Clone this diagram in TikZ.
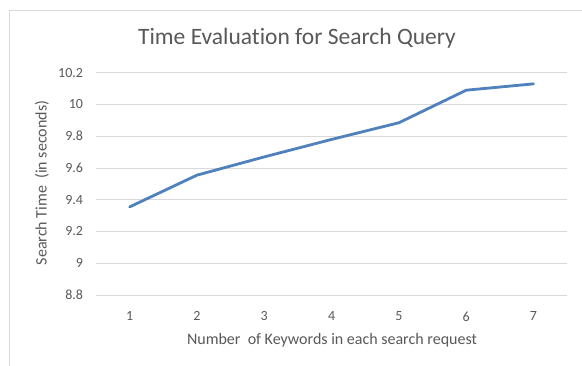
\documentclass[tikz,border=0pt]{standalone}
\usepackage{fontspec}
\setmainfont{Carlito}[Ligatures=NoCommon]
\usetikzlibrary{positioning}

\definecolor{gridgray}{HTML}{D9D9D9}
\definecolor{framegray}{HTML}{D9D9D9}
\definecolor{labelgray}{HTML}{595959}
\definecolor{seriesblue}{HTML}{4F81BD}

\begin{document}
\begin{tikzpicture}[
    x=1pt, y=-1pt,
    gridline/.style={draw=gridgray, line width=0.9pt},
    ticklabel/.style={text=labelgray, font=\fontsize{14}{16}\selectfont, inner sep=0pt},
    axistitle/.style={text=labelgray, font=\fontsize{16}{18}\selectfont, inner sep=0pt},
    charttitle/.style={text=labelgray, font=\fontsize{23.5}{26}\selectfont, inner sep=0pt},
    series/.style={draw=seriesblue, line width=2.8pt, line join=round, line cap=round}
]

% page and chart area
\useasboundingbox (0,0) rectangle (582,365);
\clip (0,0) rectangle (582,365);
\fill[white] (0,0) rectangle (582,365);
\draw[framegray, line width=0.9pt] (9,10) rectangle (600,380);

% Title
\node[charttitle] (title) at (297,38) {Time Evaluation for Search Query};

% Plot area: one unit in x per category, value axis from 8.8 up
\begin{scope}[shift={(96,295)}, x=67.3pt, y=158.75pt]
  % gridlines and value labels
  \foreach \v [count=\k] in {8.8,9,9.2,9.4,9.6,9.8,10,10.2} {
    \draw[gridline] (0,\v-8.8) -- (7,\v-8.8);
    \node[ticklabel, anchor=east] (ytick\k) at (-0.19,\v-8.8) {\v};
  }
  % category labels
  \foreach \c in {1,...,7} {
    \node[ticklabel] (xtick\c) at (\c-0.5,-0.135) {\c};
  }
  % data points
  \foreach \v [count=\c] in {9.355,9.555,9.67,9.78,9.885,10.09,10.13} {
    \coordinate (p\c) at (\c-0.5,\v-8.8);
  }
  \draw[series] (p1) -- (p2) -- (p3) -- (p4) -- (p5) -- (p6) -- (p7);
\end{scope}

% Axis titles
\node[axistitle] (xtitle) at (332,340) {Number\ \ of Keywords in each search request};
\node[axistitle, rotate=90] (ytitle) at (42,183) {Search Time\ \ (in seconds)};

\end{tikzpicture}
\end{document}
